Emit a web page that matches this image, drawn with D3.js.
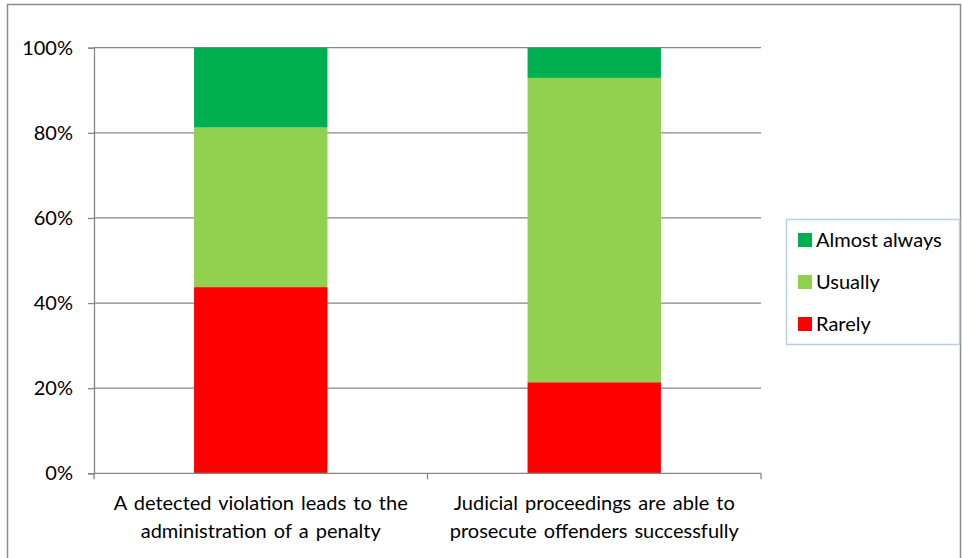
<!DOCTYPE html>
<html>
<head>
<meta charset="utf-8">
<script src="https://cdn.jsdelivr.net/npm/d3@7"></script>
<style>
  body { margin: 0; background: #fff; }
  svg { display: block; }
</style>
</head>
<body>
<script>
// chart data
var categories = [
    ["A detected violation leads to the", "administration of a penalty"],
    ["Judicial proceedings are able to", "prosecute offenders successfully"]
];
var rarely = [43.75, 21.4];
var usually = [37.5, 71.5];
var almostAlways = [18.75, 7.1];
var seriesNames = ["Rarely", "Usually", "Almost always"];
var seriesColors = ["#FF0000", "#92D050", "#00B050"];
var yTicks = [0, 20, 40, 60, 80, 100];

var width = 963, height = 558;
var margin = {left: 94, top: 47.7, right: 202, bottom: 84.7};
var font = "Lato, 'Open Sans', sans-serif";

var svg = d3.select("body").append("svg")
    .attr("width", width)
    .attr("height", height);

// outer frame
svg.append("rect")
    .attr("x", 7.5).attr("y", 4.5)
    .attr("width", 953).attr("height", 570)
    .attr("fill", "none")
    .attr("stroke", "#8c8c8c")
    .attr("stroke-width", 1.5);

var x = d3.scaleBand()
    .domain(d3.range(categories.length))
    .range([margin.left, width - margin.right])
    .paddingInner(0.6)
    .paddingOuter(0.3);

var y = d3.scaleLinear()
    .domain([0, 100])
    .range([height - margin.bottom, margin.top]);

// grid lines
svg.append("g")
    .selectAll("line")
    .data(yTicks.slice(1))
    .join("line")
    .attr("x1", margin.left).attr("x2", width - margin.right)
    .attr("y1", d => y(d)).attr("y2", d => y(d))
    .attr("stroke", "#868686")
    .attr("stroke-width", 1.3);

// stacked bars
var rows = categories.map((c, i) => ({i: i, Rarely: rarely[i], Usually: usually[i], "Almost always": almostAlways[i]}));
var stack = d3.stack().keys(seriesNames)(rows);

svg.append("g")
    .selectAll("g")
    .data(stack)
    .join("g")
    .attr("fill", (d, i) => seriesColors[i])
    .selectAll("rect")
    .data(d => d)
    .join("rect")
    .attr("x", d => x(d.data.i))
    .attr("width", x.bandwidth())
    .attr("y", d => y(d[1]))
    .attr("height", d => y(d[0]) - y(d[1]));

// y axis
var yAxis = svg.append("g")
    .attr("transform", `translate(${margin.left},0)`)
    .call(d3.axisLeft(y).tickValues(yTicks).tickFormat(d => d + "%").tickSize(6).tickPadding(15));
yAxis.select(".domain").attr("stroke", "#868686").attr("stroke-width", 1.3);
yAxis.selectAll(".tick line").attr("stroke", "#868686").attr("stroke-width", 1.3);
yAxis.selectAll("text")
    .attr("fill", "#000")
    .style("font", "20px " + font);

// x axis
var x0 = margin.left, x1 = width - margin.right, yBase = y(0);
svg.append("line")
    .attr("x1", x0).attr("x2", x1)
    .attr("y1", yBase).attr("y2", yBase)
    .attr("stroke", "#868686").attr("stroke-width", 1.3);
var step = (x1 - x0) / categories.length;
svg.append("g")
    .selectAll("line")
    .data(d3.range(categories.length + 1))
    .join("line")
    .attr("x1", d => x0 + d * step).attr("x2", d => x0 + d * step)
    .attr("y1", yBase).attr("y2", yBase + 6)
    .attr("stroke", "#868686").attr("stroke-width", 1.3);

svg.append("g")
    .selectAll("text")
    .data(categories)
    .join("text")
    .attr("x", (d, i) => x(i) + x.bandwidth() / 2)
    .attr("y", yBase + 37)
    .attr("text-anchor", "middle")
    .style("font", "20px " + font)
    .style("word-spacing", "2px")
    .selectAll("tspan")
    .data(d => d)
    .join("tspan")
    .attr("x", function () { return this.parentNode.getAttribute("x"); })
    .attr("dy", (d, i) => i === 0 ? 0 : 28)
    .text(d => d);

// legend
var legend = svg.append("g");
legend.append("rect")
    .attr("x", 786.5).attr("y", 219.5)
    .attr("width", 173).attr("height", 125)
    .attr("fill", "#fff")
    .attr("stroke", "#b9cde5")
    .attr("stroke-width", 1.5);

var legendOrder = [2, 1, 0];
var item = legend.selectAll("g.item")
    .data(legendOrder)
    .join("g")
    .attr("class", "item")
    .attr("transform", (d, i) => `translate(798,${240 + i * 42})`);
item.append("rect")
    .attr("x", 0).attr("y", -7)
    .attr("width", 14).attr("height", 14)
    .attr("fill", d => seriesColors[d]);
item.append("text")
    .attr("x", 18).attr("y", 7)
    .style("font", "20px " + font)
    .text(d => seriesNames[d]);
</script>
</body>
</html>
